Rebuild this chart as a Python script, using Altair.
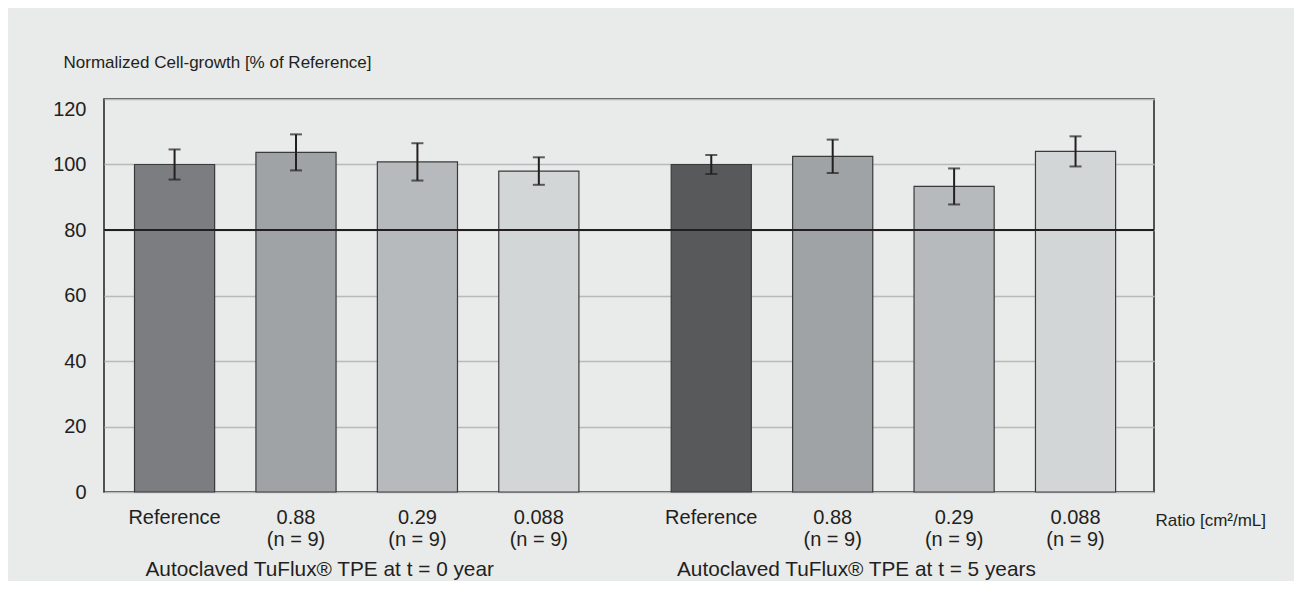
import altair as alt
import pandas as pd

# ---------------- data ----------------
groups = ["Autoclaved TuFlux® TPE at t = 0 year", "Autoclaved TuFlux® TPE at t = 5 years"]
ratios = ["Reference", "0.88", "0.29", "0.088"]
n_counts = [None, 9, 9, 9]
means_t0 = [100.0, 103.7, 100.8, 98.0]
errs_t0 = [4.6, 5.5, 5.7, 4.2]
means_t5 = [100.0, 102.5, 93.3, 104.0]
errs_t5 = [2.9, 5.1, 5.5, 4.6]
threshold = [80]
y_ticks = [0, 20, 40, 60, 80, 100, 120]

# ---------------- styles / layout ----------------
palette_t0 = ["#7c7d80", "#9fa3a5", "#b7babc", "#d3d6d7"]
palette_t5 = ["#58595b", "#9fa3a5", "#b7babc", "#d3d6d7"]
TEXT = "#231f20"
BG = "#e9eaea"
FONT = "Liberation Sans"
PW, PH = 1050, 393
SLOT0 = 0.54        # first bar centre (slot units)
GROUP_SHIFT = 4.42  # offset of second group (slot units)
HALF = 0.33         # half bar width (slot units)
X_MAX = 8.565

rows = []
for g, (means, errs) in enumerate([(means_t0, errs_t0), (means_t5, errs_t5)]):
    for i, r in enumerate(ratios):
        label = r if n_counts[i] is None else f"{r}\n(n = {n_counts[i]})"
        rows.append(dict(id=f"{g}-{i}", group=groups[g], label=label,
                         mean=means[i], err=errs[i],
                         pos=SLOT0 + i + g * GROUP_SHIFT))
df = pd.DataFrame(rows)
ids = list(df["id"])
palette = palette_t0 + palette_t5

gdf = pd.DataFrame({"group": groups,
                    "gpos": [SLOT0 + 1.5 + g * GROUP_SHIFT for g in range(len(groups))]})

xscale = alt.Scale(domain=[0, X_MAX], nice=False, zero=False)
yscale = alt.Scale(domain=[0, 120], nice=False, padding=0)

x_axis = alt.Axis(title="Ratio [cm²/mL]", labels=False, ticks=False, domain=False, grid=False,
                  titleX=1051, titleY=33, titleAlign="left", titleBaseline="alphabetic",
                  titleAnchor="start", titleFontSize=17, titleFontWeight="normal", titleColor=TEXT)
y_axis = alt.Axis(values=y_ticks, grid=True, gridColor="#b8babb", gridWidth=1.5,
                  ticks=False, domain=False, labelPadding=18, labelFontSize=20,
                  labelColor=TEXT,
                  labelBaseline={"condition": {"test": "datum.value == 120", "value": "top"},
                                 "value": "middle"},
                  title="Normalized Cell-growth [% of Reference]", titleAngle=0,
                  titleAlign="left", titleBaseline="alphabetic", titleX=-41, titleY=-32,
                  titleFontSize=17, titleFontWeight="normal", titleColor=TEXT)

base = alt.Chart(df)

bars = base.transform_calculate(
    x0=f"datum.pos - {HALF}", x1=f"datum.pos + {HALF}", zero="0"
).mark_bar(stroke="#3a3a3b", strokeWidth=1.2, orient="vertical").encode(
    x=alt.X("x0:Q", scale=xscale, axis=x_axis),
    x2="x1:Q",
    y=alt.Y("mean:Q", scale=yscale, axis=y_axis),
    y2="zero:Q",
    color=alt.Color("id:N", scale=alt.Scale(domain=ids, range=palette), legend=None),
)

rule80 = alt.Chart(pd.DataFrame({"v": threshold})).mark_rule(
    color=TEXT, strokeWidth=1.8).encode(y=alt.Y("v:Q", scale=yscale))

err = base.transform_calculate(lo="datum.mean - datum.err", hi="datum.mean + datum.err")
err_line = err.mark_rule(color=TEXT, strokeWidth=2).encode(
    x=alt.X("pos:Q", scale=xscale), y=alt.Y("lo:Q", scale=yscale), y2="hi:Q")
err_caps = err.transform_fold(["lo", "hi"], as_=["end", "val"]).mark_tick(
    orient="horizontal", size=12, thickness=2, color=TEXT).encode(
    x=alt.X("pos:Q", scale=xscale), y=alt.Y("val:Q", scale=yscale))

labels = base.mark_text(lineBreak="\n", fontSize=20, lineHeight=22, baseline="alphabetic",
                        align="center", color=TEXT).encode(
    x=alt.X("pos:Q", scale=xscale), y=alt.value(PH + 32), text="label:N")

glabels = alt.Chart(gdf).mark_text(fontSize=20.8, baseline="alphabetic", align="center",
                                   color=TEXT, dx=-37).encode(
    x=alt.X("gpos:Q", scale=xscale), y=alt.value(PH + 84), text="group:N")

chart = alt.layer(bars, rule80, err_line, err_caps, labels, glabels).properties(
    width=PW, height=PH,
    padding={"left": 96, "top": 91, "right": 140, "bottom": 89},
    autosize=alt.AutoSizeParams(type="none"),
).configure(background=BG, font=FONT).configure_view(stroke=TEXT, strokeWidth=1.5)

chart.save("out.html", embed_options={"renderer": "svg", "actions": False})
